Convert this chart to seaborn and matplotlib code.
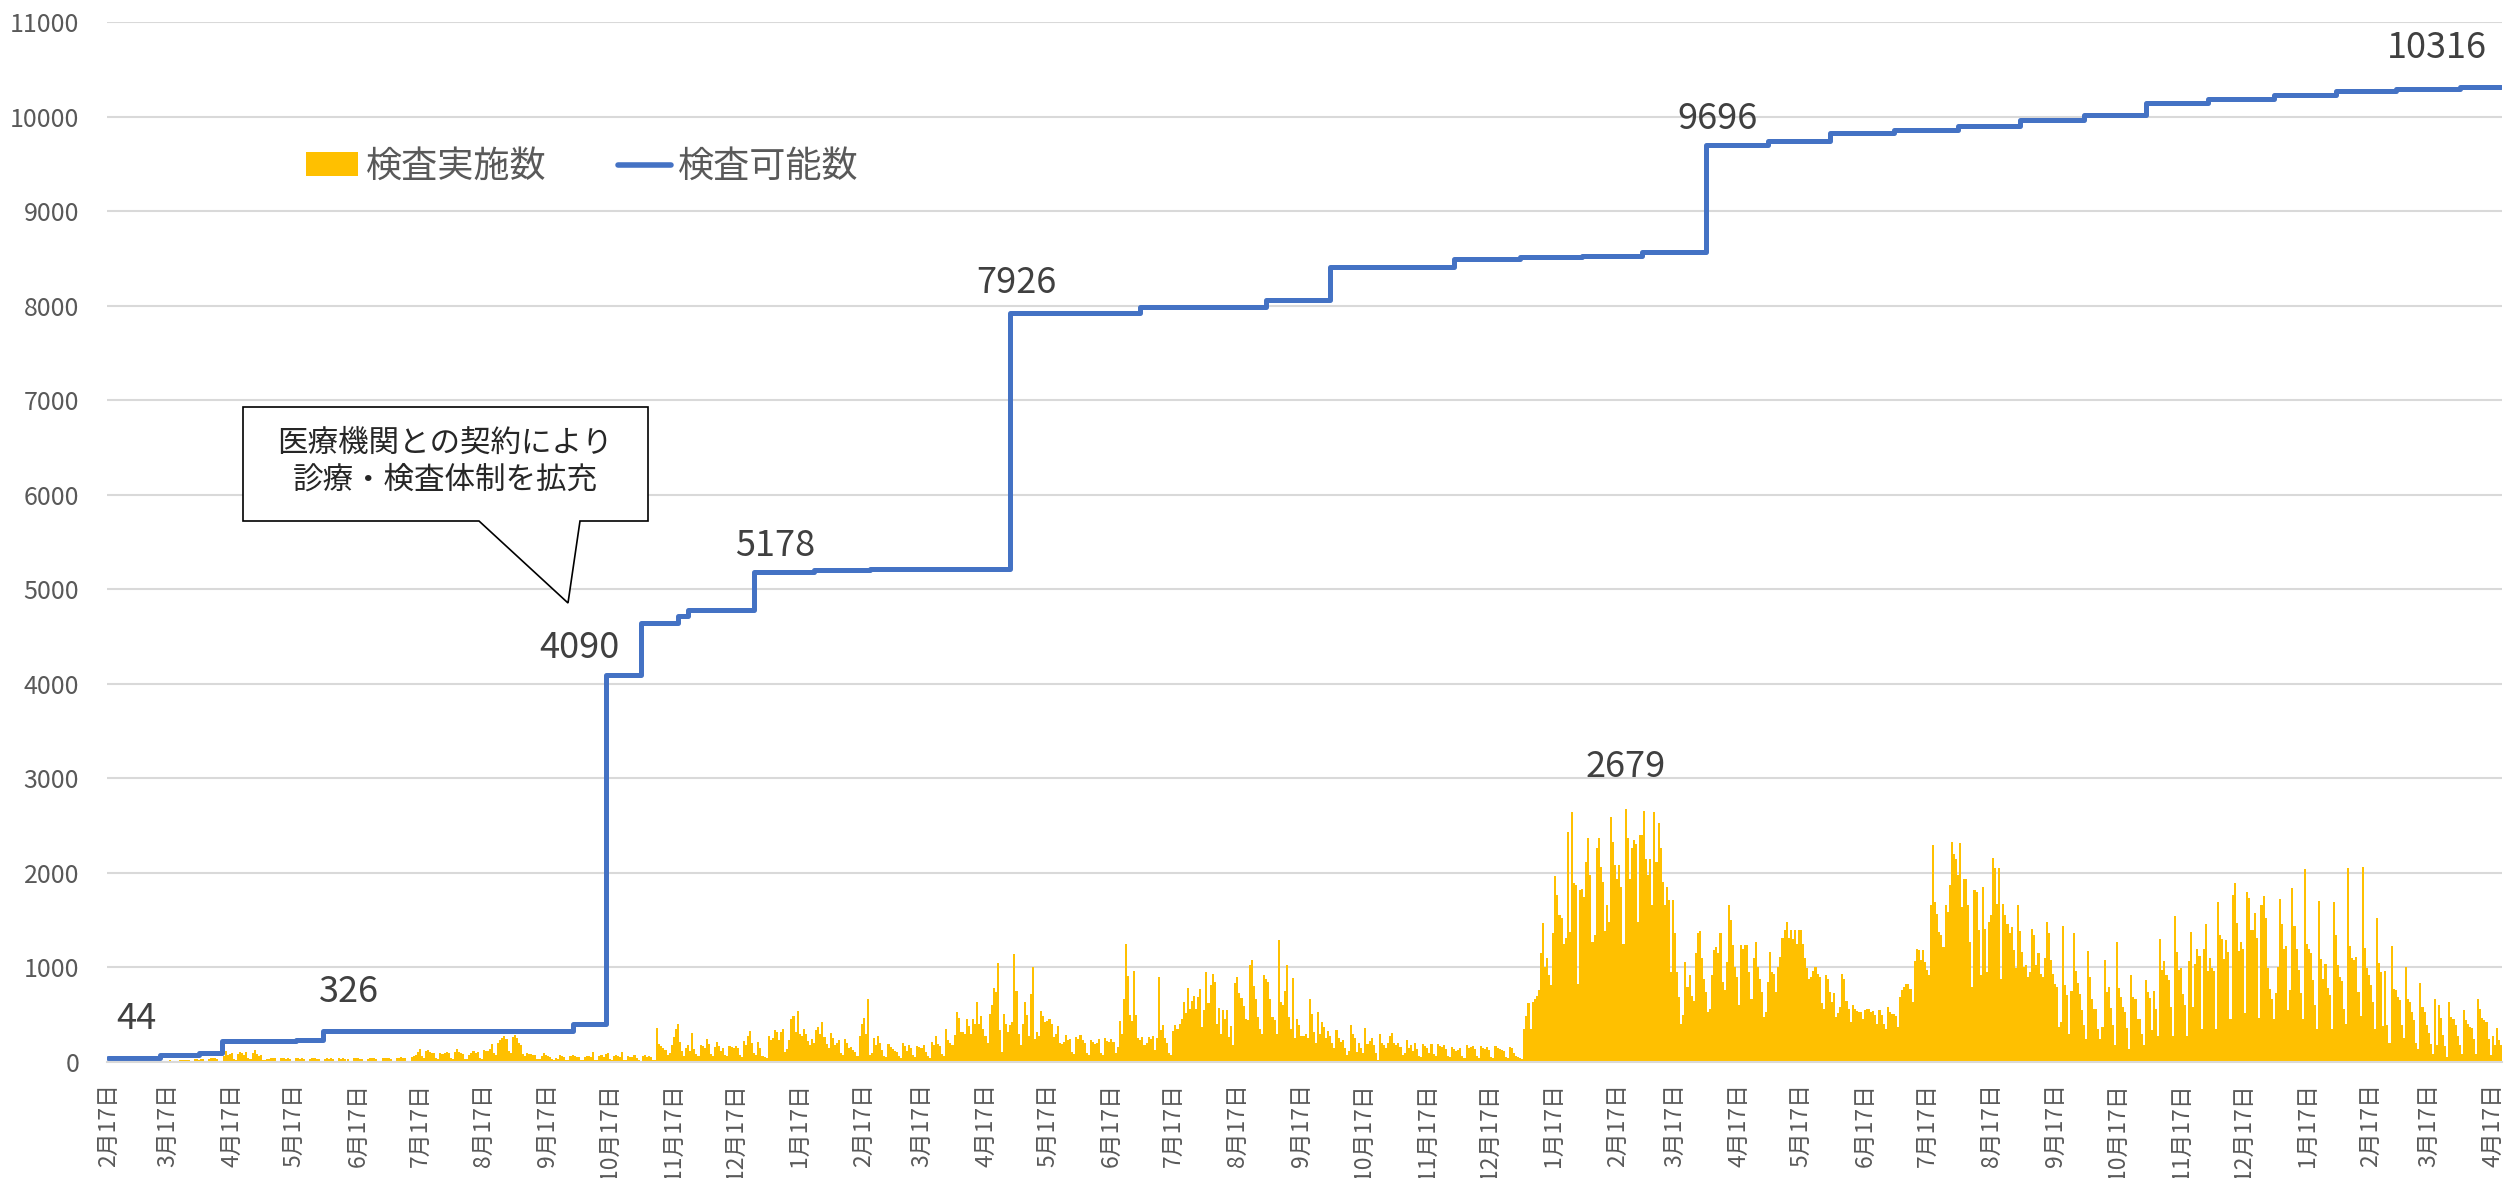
import numpy as np
import pandas as pd
import matplotlib
matplotlib.use('Agg')
import matplotlib.pyplot as plt
import seaborn as sns
from matplotlib.patches import Polygon, Patch
from matplotlib.lines import Line2D

# first day of the series (Monday 2020-02-17); one value per day
start_date = pd.Timestamp('2020-02-17')

# daily tests, 2020-02-17 .. 2021-02-14 (one row per week, Mon..Sun)
tests_a = [
    0, 2, 0, 3, 0, 0, 0,
    3, 2, 4, 5, 3, 0, 0,
    5, 6, 4, 8, 6, 2, 1,
    8, 10, 9, 12, 10, 4, 3,
    14, 12, 16, 15, 12, 6, 4,
    20, 18, 24, 22, 20, 8, 6,
    28, 30, 26, 32, 30, 12, 10,
    35, 40, 38, 42, 36, 15, 12,
    60, 113, 70, 85, 95, 30, 25,
    80, 110, 90, 75, 105, 40, 30,
    95, 130, 85, 60, 75, 25, 20,
    35, 30, 40, 42, 38, 12, 8,
    40, 38, 35, 42, 36, 10, 8,
    38, 42, 35, 40, 32, 10, 8,
    36, 40, 38, 35, 33, 10, 6,
    35, 38, 32, 40, 30, 8, 6,
    40, 36, 38, 34, 30, 10, 6,
    38, 42, 40, 36, 32, 12, 8,
    35, 38, 42, 40, 36, 12, 8,
    40, 44, 38, 42, 35, 12, 10,
    45, 42, 48, 40, 38, 14, 10,
    55, 60, 75, 110, 135, 60, 40,
    120, 130, 110, 95, 100, 45, 30,
    90, 85, 100, 110, 95, 40, 30,
    110, 134, 105, 90, 80, 35, 30,
    75, 100, 120, 95, 110, 45, 35,
    130, 120, 115, 140, 190, 90, 70,
    200, 230, 250, 270, 240, 120, 90,
    260, 290, 250, 200, 175, 80, 60,
    90, 80, 85, 75, 70, 35, 30,
    65, 90, 70, 60, 55, 30, 25,
    40, 35, 70, 65, 55, 25, 20,
    60, 70, 65, 55, 50, 25, 20,
    55, 60, 65, 50, 105, 20, 18,
    60, 70, 55, 80, 100, 30, 20,
    65, 70, 60, 55, 105, 25, 20,
    60, 50, 55, 70, 45, 20, 15,
    60, 70, 55, 65, 50, 25, 20,
    360, 195, 165, 150, 125, 70, 90,
    175, 265, 350, 400, 210, 120, 60,
    150, 185, 120, 310, 140, 88, 60,
    185, 170, 150, 245, 190, 80, 60,
    160, 210, 170, 120, 150, 70, 60,
    170, 160, 150, 170, 150, 70, 50,
    220, 180, 270, 325, 200, 90, 70,
    210, 150, 60, 50, 40, 280, 230,
    250, 335, 320, 230, 320, 350, 110,
    140, 230, 460, 490, 320, 535, 300,
    270, 350, 300, 220, 175, 245, 200,
    335, 370, 300, 425, 265, 195, 150,
    310, 250, 180, 200, 230, 90, 70,
    240, 200, 150, 160, 125, 105, 60,
]

# daily tests, 2021-02-15 .. 2022-02-13
tests_b = [
    280, 405, 465, 300, 670, 70, 90,
    255, 180, 280, 200, 125, 60, 50,
    195, 160, 140, 120, 105, 60, 40,
    200, 170, 115, 180, 150, 70, 50,
    170, 160, 150, 180, 105, 60, 40,
    210, 180, 270, 190, 170, 80, 60,
    345, 230, 200, 175, 290, 530, 465,
    320, 320, 300, 460, 380, 300, 460,
    400, 630, 405, 487, 350, 270, 200,
    510, 600, 785, 740, 1050, 335, 105,
    510, 405, 320, 390, 420, 1140, 750,
    300, 175, 400, 635, 495, 275, 715,
    1005, 245, 320, 280, 540, 487, 425,
    430, 460, 405, 265, 300, 380, 200,
    195, 210, 290, 230, 245, 110, 80,
    265, 240, 290, 230, 200, 90, 70,
    230, 210, 187, 200, 245, 90, 70,
    255, 220, 210, 240, 210, 90, 160,
    435, 300, 670, 1245, 910, 500, 430,
    960, 495, 250, 230, 260, 180, 200,
    260, 240, 270, 130, 250, 900, 340,
    390, 250, 200, 100, 70, 330, 390,
    350, 400, 450, 635, 520, 780, 560,
    640, 700, 565, 690, 770, 370, 550,
    950, 620, 810, 930, 850, 405, 570,
    300, 550, 460, 555, 265, 380, 175,
    840, 895, 725, 680, 590, 450, 440,
    1025, 1075, 805, 670, 475, 350, 300,
    925, 875, 850, 670, 475, 440, 300,
    1295, 630, 600, 750, 1025, 475, 350,
    890, 250, 460, 395, 280, 275, 300,
    250, 665, 510, 320, 200, 530, 300,
    420, 370, 250, 330, 280, 200, 150,
    335, 250, 210, 230, 150, 70, 120,
    390, 300, 250, 105, 200, 150, 100,
    360, 195, 220, 250, 175, 100, 20,
    300, 200, 180, 150, 200, 280, 310,
    200, 180, 200, 160, 70, 100, 230,
    150, 180, 120, 200, 140, 60, 50,
    195, 170, 150, 100, 190, 80, 60,
    190, 170, 160, 180, 140, 60, 50,
    160, 140, 120, 130, 150, 60, 40,
    180, 150, 160, 170, 140, 60, 40,
    170, 150, 140, 160, 130, 50, 40,
    170, 150, 140, 130, 120, 50, 40,
    160, 150, 100, 60, 50, 40, 30,
    350, 485, 620, 350, 630, 670, 700,
    765, 1150, 1465, 1000, 1095, 920, 810,
    1360, 1970, 1765, 1550, 1520, 1250, 1315,
    2430, 1380, 2640, 1890, 1870, 820, 1820,
    1835, 1750, 2120, 2365, 1980, 1270, 1340,
    2265, 2370, 2065, 1900, 1390, 1665, 1480,
]

# daily tests, 2022-02-14 .. 2023-02-12
tests_c = [
    2590, 2330, 2080, 1940, 2080, 1850, 1250,
    2679, 2365, 1940, 2260, 2350, 2310, 1480,
    2400, 2400, 2650, 2150, 1980, 2150, 1660,
    2640, 2120, 2530, 2260, 1900, 1660, 1850,
    1710, 950, 1710, 1360, 950, 690, 405,
    495, 1060, 795, 920, 700, 650, 1150,
    1360, 1385, 1095, 880, 740, 530, 560,
    920, 1180, 1220, 1150, 1360, 850, 760,
    1060, 1660, 1500, 1235, 1005, 900, 600,
    1235, 1200, 1235, 1240, 950, 670, 1095,
    1265, 1000, 880, 740, 475, 530, 850,
    1165, 950, 935, 740, 1005, 1110, 1310,
    1400, 1480, 1310, 1395, 1300, 1395, 1250,
    1395, 1400, 1250, 1095, 990, 880, 900,
    960, 1005, 935, 900, 620, 565, 920,
    880, 740, 635, 725, 475, 520, 580,
    935, 880, 650, 565, 425, 600, 565,
    540, 530, 530, 460, 545, 560, 565,
    530, 540, 495, 405, 545, 500, 405,
    350, 580, 530, 510, 510, 490, 370,
    690, 760, 795, 830, 830, 775, 635,
    1065, 1195, 1180, 1075, 1180, 1060, 970,
    920, 1660, 2295, 1695, 1570, 1375, 1340,
    1220, 1660, 1590, 1870, 2330, 2205, 2150,
    1975, 2320, 1640, 1940, 1940, 1660, 1270,
    795, 1820, 1800, 1395, 920, 1855, 1410,
    950, 1480, 1555, 2155, 2050, 1675, 2050,
    880, 1675, 1550, 1455, 1360, 1430, 1180,
    995, 1660, 1385, 1165, 1005, 1025, 900,
    955, 1410, 1340, 1025, 1150, 935, 895,
    1100, 1485, 1360, 1075, 935, 820, 795,
    370, 425, 1435, 810, 705, 300, 755,
    1360, 965, 840, 715, 545, 390, 245,
    1175, 900, 670, 565, 565, 350, 245,
    370, 1075, 740, 795, 570, 390, 185,
    1270, 785, 690, 580, 530, 360, 140,
    920, 690, 670, 460, 450, 300, 175,
    870, 740, 680, 335, 750, 565, 280,
    1300, 970, 1065, 925, 865, 580, 275,
    1545, 1160, 970, 995, 715, 600, 280,
    1065, 1370, 580, 1040, 1195, 1120, 345,
    1195, 1460, 960, 1100, 990, 960, 345,
    1690, 1340, 1305, 1085, 1290, 1165, 460,
    1765, 1890, 1475, 1170, 1265, 1190, 520,
    1795, 1730, 1395, 1395, 1580, 1310, 470,
    1660, 1755, 1525, 995, 770, 665, 460,
    725, 1000, 1720, 1455, 1195, 1225, 545,
    760, 1845, 1440, 1200, 970, 735, 460,
    2045, 1245, 1200, 1150, 865, 600, 345,
    1705, 1085, 880, 1040, 785, 705, 350,
    1690, 1340, 1030, 900, 855, 560, 405,
    2050, 1230, 1095, 1075, 1110, 740, 485,
]

# daily tests, 2023-02-13 .. 2023-04-21
tests_d = [
    2065, 1205, 995, 925, 810, 630, 345,
    1520, 1050, 955, 380, 960, 390, 205,
    1230, 770, 760, 690, 655, 395, 255,
    1000, 670, 635, 530, 440, 205, 135,
    835, 580, 530, 390, 310, 195, 80,
    670, 185, 605, 465, 290, 165, 55,
    630, 475, 460, 390, 280, 175, 80,
    545, 440, 405, 370, 360, 245, 85,
    670, 565, 465, 440, 425, 245, 70,
    280, 185, 360, 230, 175,
]

# testing capacity: day offset where each level starts, and the level
cap_days = [0, 25, 44, 55, 91, 104, 225, 241, 258, 276, 281, 313, 342, 369, 437,
            500, 561, 592, 652, 684, 714, 743, 774, 804, 834, 865, 896, 926, 957,
            987, 1017, 1049, 1079, 1108, 1139]
cap_values = [44, 70, 90, 222, 236, 326, 406, 4090, 4640, 4720, 4780, 5178, 5200, 5210, 7926,
              7990, 8064, 8410, 8490, 8510, 8530, 8572, 9696, 9745, 9823, 9862, 9900, 9961, 10021,
              10141, 10184, 10226, 10265, 10290, 10316]

# which capacity levels get a value label
labelled_levels = [44, 326, 4090, 5178, 7926, 9696, 10316]

tests = tests_a + tests_b + tests_c + tests_d
n_days = len(tests)
df = pd.DataFrame({'day': np.arange(n_days), 'tests': tests})

line_x = cap_days + [n_days - 1]
line_y = cap_values + [cap_values[-1]]

sns.set_theme(style='white')
plt.rcParams['font.family'] = ['Noto Sans CJK JP', 'DejaVu Sans']

W, H = 2511, 1178
fig = plt.figure(figsize=(W / 100, H / 100), dpi=100)
ax = fig.add_axes([107 / W, 1 - 1062 / H, (2502 - 107) / W, (1062 - 22) / H])

bar_color = '#FFC000'
line_color = '#4472C4'
text_gray = '#595959'
label_gray = '#404040'

sns.barplot(data=df, x='day', y='tests', native_scale=True, color=bar_color,
            saturation=1, width=1.0, errorbar=None, linewidth=0, ax=ax)
sns.lineplot(x=line_x, y=line_y, drawstyle='steps-post', color=line_color,
             linewidth=3.6, ax=ax)

ax.set_xlim(-0.5, n_days - 0.5)
ax.set_ylim(0, 11000)
ax.set_yticks(range(0, 11001, 1000))
ax.yaxis.grid(True, color='#D9D9D9', linewidth=1.5)
ax.set_axisbelow(True)
for s in ['top', 'right', 'left']:
    ax.spines[s].set_visible(False)
ax.spines['bottom'].set_color('#D9D9D9')
ax.spines['bottom'].set_linewidth(1.5)
ax.set_xlabel('')
ax.set_ylabel('')

# month ticks on the 17th
months = pd.date_range('2020-02-01', '2023-04-01', freq='MS') + pd.Timedelta(days=16)
tick_days = [(d - start_date).days for d in months]
tick_labels = [f'{d.month}月17日' for d in months]
ax.set_xticks(tick_days)
ax.set_xticklabels(tick_labels, rotation=90, fontsize=16.5, color=text_gray)
ax.tick_params(axis='x', length=0, pad=15)
ax.tick_params(axis='y', length=0, pad=20, labelsize=18, labelcolor=text_gray)

# value labels
offsets = {44: (28, 39), 326: (26, 39), 4090: (-26, 27), 5178: (21, 26),
           7926: (6, 30), 9696: (11, 26), 10316: (-64, 39)}
for v in labelled_levels:
    i = cap_values.index(v)
    x0 = line_x[-1] if v == cap_values[-1] else cap_days[i]
    ax.annotate(str(v), xy=(x0, v), xytext=offsets[v], textcoords='offset pixels',
                ha='center', va='center', fontsize=26, color=label_gray)

peak_day = int(np.argmax(tests))
ax.annotate(str(tests[peak_day]), xy=(peak_day, tests[peak_day]), xytext=(0, 42),
            textcoords='offset pixels', ha='center', va='center', fontsize=26, color=label_gray)

# callout box
pts = [(243, 407), (648, 407), (648, 521), (580, 521), (568, 603), (479, 521), (243, 521)]
callout = Polygon([(x / W, 1 - y / H) for x, y in pts], closed=True, transform=fig.transFigure,
                  facecolor='white', edgecolor='black', linewidth=1.2, zorder=5)
fig.patches.append(callout)
fig.text(445 / W, 1 - 443 / H, '医療機関との契約により', ha='center', va='center',
         fontsize=22, color='#262626', zorder=6)
fig.text(445 / W, 1 - 480 / H, '診療・検査体制を拡充', ha='center', va='center',
         fontsize=22, color='#262626', zorder=6)

# legend
handles = [Patch(facecolor=bar_color, edgecolor='none', label='検査実施数'),
           Line2D([], [], color=line_color, linewidth=4, label='検査可能数')]
fig.legend(handles=handles, loc='center left', bbox_to_anchor=(306 / W, 1 - 167 / H),
           ncol=2, frameon=False, fontsize=26, labelcolor=text_gray,
           handlelength=1.45, handleheight=0.65, handletextpad=0.2, columnspacing=2.0,
           borderpad=0, borderaxespad=0)

fig.savefig('out.png', dpi=100)
